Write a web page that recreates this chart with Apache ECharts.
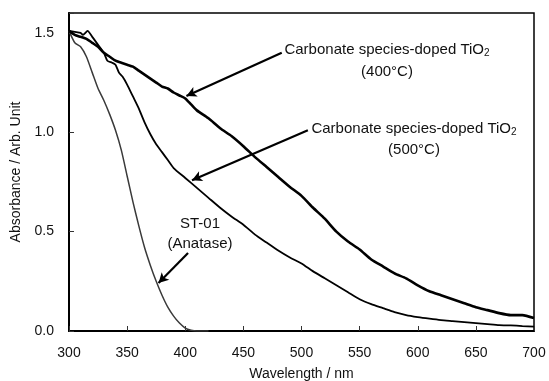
<!DOCTYPE html>
<html>
<head>
<meta charset="utf-8">
<script src="https://cdn.jsdelivr.net/npm/echarts@6/dist/echarts.min.js"></script>
<style>
  html, body { margin: 0; padding: 0; background: #fff; }
  #chart { width: 549px; height: 381px; }
</style>
</head>
<body>
<div id="chart"></div>
<script>
// ST-01 (Anatase)
var st01Wl = [300, 305, 310, 315, 320, 325, 330, 335, 340, 345, 350, 355, 360, 365, 370, 375, 380, 385, 390, 395, 400, 405, 410, 420];
var st01Abs = [1.51, 1.45, 1.43, 1.38, 1.30, 1.22, 1.16, 1.09, 1.01, 0.91, 0.78, 0.65, 0.53, 0.42, 0.33, 0.25, 0.18, 0.12, 0.075, 0.04, 0.015, 0.004, 0.0, 0.0];

// Carbonate species-doped TiO2 (500°C)
var c500Wl = [300, 305, 310, 312, 316, 320, 325, 330, 333, 337, 340, 343, 346, 350, 355, 360, 365, 370, 375, 380, 385, 390, 400, 410, 420, 430, 440, 450, 460, 470, 480, 490, 500, 510, 520, 530, 540, 550, 560, 570, 580, 590, 600, 610, 620, 630, 640, 650, 660, 670, 680, 690, 700];
var c500Abs = [1.51, 1.505, 1.50, 1.49, 1.51, 1.48, 1.44, 1.40, 1.36, 1.35, 1.34, 1.30, 1.28, 1.24, 1.18, 1.12, 1.05, 0.99, 0.94, 0.90, 0.86, 0.82, 0.77, 0.72, 0.67, 0.62, 0.575, 0.535, 0.485, 0.445, 0.405, 0.37, 0.34, 0.30, 0.265, 0.23, 0.195, 0.16, 0.135, 0.115, 0.095, 0.08, 0.07, 0.062, 0.055, 0.05, 0.045, 0.04, 0.035, 0.03, 0.028, 0.025, 0.022];

// Carbonate species-doped TiO2 (400°C)
var c400Wl = [300, 305, 310, 315, 320, 325, 330, 335, 340, 345, 350, 355, 360, 365, 370, 375, 380, 385, 390, 395, 400, 405, 410, 420, 430, 440, 450, 460, 470, 480, 490, 500, 510, 520, 530, 540, 550, 560, 570, 580, 590, 600, 610, 620, 630, 640, 650, 660, 670, 680, 690, 700];
var c400Abs = [1.51, 1.49, 1.48, 1.47, 1.45, 1.43, 1.40, 1.38, 1.36, 1.35, 1.34, 1.33, 1.31, 1.29, 1.27, 1.25, 1.23, 1.22, 1.20, 1.185, 1.17, 1.14, 1.11, 1.07, 1.02, 0.98, 0.93, 0.875, 0.825, 0.775, 0.725, 0.68, 0.62, 0.565, 0.50, 0.45, 0.41, 0.36, 0.325, 0.29, 0.265, 0.23, 0.20, 0.18, 0.16, 0.14, 0.12, 0.105, 0.09, 0.08, 0.08, 0.065];

// annotation arrows [fromX, fromY, toX, toY] in data units
var arrow400 = [483, 1.40, 401, 1.183];
var arrow500 = [505.5, 1.01, 405.8, 0.759];
var arrowSt01 = [402.4, 0.392, 377, 0.241];

function pairs(xs, ys) {
  return xs.map(function (x, i) { return [x, ys[i]]; });
}

function arrowMark(a) {
  return {
    silent: true,
    symbol: ['none', 'arrow'],
    symbolSize: [8, 10],
    label: { show: false },
    lineStyle: { color: '#000', width: 2.2, type: 'solid' },
    data: [[{ coord: [a[0], a[1]] }, { coord: [a[2], a[3]] }]]
  };
}

var fontFamily = "'Liberation Sans', Arial, sans-serif";

var chart = echarts.init(document.getElementById('chart'));

var option = {
  animation: false,
  backgroundColor: '#fff',
  grid: {
    left: 69, right: 15, top: 13, bottom: 50,
    containLabel: false,
    outerBoundsMode: 'none',
    show: true,
    borderColor: '#000',
    borderWidth: 1.5
  },
  xAxis: {
    type: 'value',
    min: 300, max: 700, interval: 50,
    name: 'Wavelength / nm',
    nameLocation: 'middle',
    nameGap: 36,
    nameTextStyle: { color: '#111', fontSize: 14, fontFamily: fontFamily },
    axisLine: { show: true, lineStyle: { color: '#000', width: 2 } },
    axisTick: { show: true, inside: true, length: 5, lineStyle: { color: '#333', width: 1 } },
    axisLabel: { color: '#111', fontSize: 14, fontFamily: fontFamily, margin: 15 },
    splitLine: { show: false }
  },
  yAxis: {
    type: 'value',
    min: 0, max: 1.6, interval: 0.5,
    name: 'Absorbance / Arb. Unit',
    nameLocation: 'middle',
    nameGap: 37,
    nameTextStyle: { color: '#111', fontSize: 14, fontFamily: fontFamily },
    axisLine: { show: true, lineStyle: { color: '#000', width: 2 } },
    axisTick: { show: true, inside: true, length: 5, lineStyle: { color: '#333', width: 1 } },
    axisLabel: {
      color: '#111', fontSize: 14, fontFamily: fontFamily, margin: 15,
      formatter: function (v) {
        return Math.abs(v * 2 - Math.round(v * 2)) < 1e-6 ? v.toFixed(1) : '';
      }
    },
    splitLine: { show: false }
  },
  series: [
    {
      name: 'ST-01 (Anatase)',
      type: 'line',
      data: pairs(st01Wl, st01Abs),
      showSymbol: false,
      smooth: 0.2,
      lineStyle: { color: '#3a3a3a', width: 1.5 },
      markLine: arrowMark(arrowSt01)
    },
    {
      name: 'Carbonate 500',
      type: 'line',
      data: pairs(c500Wl, c500Abs),
      showSymbol: false,
      smooth: 0.2,
      lineStyle: { color: '#000', width: 1.8 },
      markLine: arrowMark(arrow500)
    },
    {
      name: 'Carbonate 400',
      type: 'line',
      data: pairs(c400Wl, c400Abs),
      showSymbol: false,
      smooth: 0.2,
      lineStyle: { color: '#000', width: 2.6 },
      markLine: arrowMark(arrow400)
    }
  ],
  graphic: [
    { type: 'text', x: 387, y: 61, style: {
        text: 'Carbonate species-doped TiO{sub|2}\n(400°C)', align: 'center', verticalAlign: 'middle',
        fill: '#111', fontSize: 15, fontFamily: fontFamily, lineHeight: 22,
        rich: { sub: { fontSize: 10, padding: [7, 0, 0, 0], fontFamily: fontFamily, fill: '#111' } } } },
    { type: 'text', x: 414, y: 139, style: {
        text: 'Carbonate species-doped TiO{sub|2}\n(500°C)', align: 'center', verticalAlign: 'middle',
        fill: '#111', fontSize: 15, fontFamily: fontFamily, lineHeight: 21,
        rich: { sub: { fontSize: 10, padding: [7, 0, 0, 0], fontFamily: fontFamily, fill: '#111' } } } },
    { type: 'text', x: 200, y: 234, style: {
        text: 'ST-01\n(Anatase)', align: 'center', verticalAlign: 'middle',
        fill: '#111', fontSize: 15, fontFamily: fontFamily, lineHeight: 20 } }
  ]
};

chart.setOption(option);
</script>
</body>
</html>
